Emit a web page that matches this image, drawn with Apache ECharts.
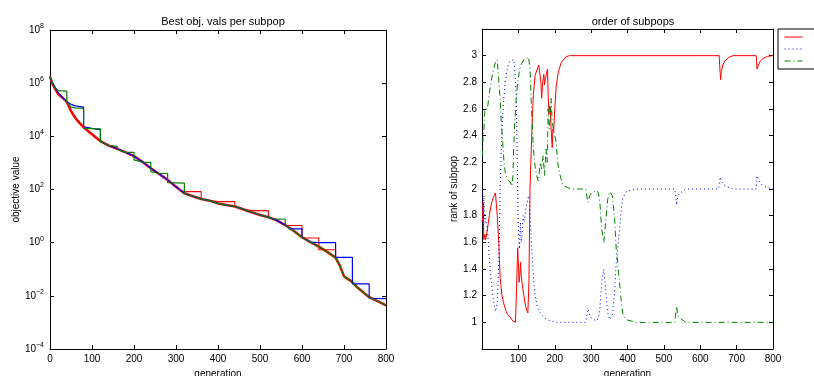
<!DOCTYPE html>
<html><head><meta charset="utf-8">
<script src="https://cdn.jsdelivr.net/npm/echarts@6/dist/echarts.min.js"></script>
<style>html,body{margin:0;padding:0;background:#fff}#c{width:814px;height:376px}</style>
</head><body><div id="c"></div>
<script>
// ---------- Left plot: best objective value (overall, thick) and per subpopulation ----------
const bestGen = [0,5,10,20,30,40,50,60,70,80,90,100,110,120,140,160,180,200,220,240,260,280,300,320,340,360,380,400,420,440,460,480,500,520,540,560,580,600,620,640,660,680,690,700,718,730,745,758,780,800];
const bestObj = [1.8e6,1.0e6,7.1e5,3.8e5,2.8e5,2.0e5,8.9e4,5.0e4,3.2e4,2.2e4,1.6e4,1.2e4,8.9e3,6.6e3,4.5e3,3.4e3,2.5e3,1.8e3,1.1e3,630,380,230,126,72,56,44,38,30,26,23,18,14,11,9.1,6.9,4.6,2.8,1.6,1.05,0.71,0.45,0.27,0.14,0.054,0.035,0.022,0.014,0.0093,0.0063,0.0044];

const redGen = [0,5,10,20,30,40,50,60,70,80,90,100,110,120,140,160,180,200,220,240,260,280,300,315,360,360,380,400,440,440,460,480,520,520,540,560,600,600,640,640,680,680,690,700,718,730,745,758,780,800];
const redObj = [1.8e6,1.0e6,7.1e5,3.8e5,2.8e5,2.0e5,8.9e4,5.0e4,3.2e4,2.2e4,1.6e4,1.2e4,8.9e3,6.6e3,4.5e3,3.4e3,2.5e3,1.8e3,1.1e3,630,380,230,126,83,83,44,38,35,35,24,18,16,16,9.1,6.9,4.4,4.4,1.5,1.5,0.54,0.54,0.27,0.14,0.054,0.035,0.022,0.014,0.0093,0.0063,0.0044];

const blueGen = [0,10,20,40,50,60,80,80,100,120,120,140,160,180,200,220,240,260,280,300,320,340,360,380,400,420,440,460,480,500,520,540,565,570,600,600,620,640,680,680,720,720,760,760,800];
const blueObj = [1.6e6,7.9e5,4.2e5,2.0e5,1.6e5,1.4e5,1.26e5,2.3e4,2.0e4,1.8e4,6.3e3,4.5e3,3.4e3,2.5e3,1.8e3,1.1e3,630,380,230,126,72,56,44,38,30,26,23,18,14,11,9.1,6.9,4.2,3.3,3.3,1.6,1.05,1.0,1.0,0.28,0.28,0.028,0.028,0.0081,0.0079];

const greenGen = [0,10,20,40,40,50,60,80,80,120,120,140,160,160,180,200,200,220,240,240,260,280,280,320,320,340,360,380,400,420,440,460,480,500,520,530,560,560,580,600,620,640,660,680,690,700,718,730,745,758,780,800];
const greenObj = [1.7e6,7.1e5,5.2e5,5.0e5,2.0e5,1.26e5,1.17e5,1.12e5,2.0e4,1.9e4,6.3e3,4.5e3,4.2e3,3.2e3,2.5e3,2.5e3,1.3e3,1.07e3,1.05e3,470,400,400,180,174,72,56,44,38,30,26,23,18,14,11,9.1,7.9,7.6,4.6,2.8,1.6,1.05,0.71,0.45,0.27,0.14,0.054,0.035,0.022,0.014,0.0093,0.0063,0.0044];

// ---------- Right plot: rank of each subpopulation ----------
const rankRedGen = [1,3,5,8,10,15,20,25,30,37,42,46,50,55,59,65,70,77,85,92,95,98,100,102,104,106,108,110,115,120,126,129,132,137,141,146,152,156,160,162,164,167,170,172,174,177,180,182,184,186,188,190,193,195,197,200,204,210,218,230,240,652,654,656,658,662,667,680,690,754,756,760,765,773,785,800];
const rankRed = [1.75,1.9,1.62,1.66,1.62,1.7,1.8,1.88,1.93,1.97,1.8,1.6,1.33,1.2,1.15,1.09,1.06,1.04,1.01,1.0,1.25,1.56,1.45,1.3,1.35,1.45,1.35,1.3,1.2,1.12,1.07,1.3,2.0,2.43,2.7,2.85,2.9,2.93,2.94,2.8,2.68,2.8,2.86,2.78,2.82,2.86,2.9,2.7,2.56,2.62,2.6,2.45,2.31,2.45,2.43,2.6,2.77,2.88,2.95,2.99,3.0,3.0,2.9,2.82,2.88,2.93,2.96,2.99,3.0,3.0,2.9,2.93,2.96,2.98,2.995,3.0];

const rankBlueGen = [1,3,5,8,10,15,20,25,30,37,42,46,50,53,56,60,63,68,74,80,87,90,94,96,98,100,103,106,108,110,113,116,119,124,128,131,134,137,141,146,152,160,170,178,190,205,285,290,292,296,301,315,320,324,329,335,338,340,343,346,351,358,364,369,373,378,383,387,396,410,423,530,533,535,538,545,560,650,653,655,658,665,680,690,754,756,760,770,785,800];
const rankBlue = [2.0,1.7,1.95,1.75,1.78,1.7,1.48,1.32,1.19,1.08,1.15,1.43,2.0,2.3,2.5,2.68,2.78,2.88,2.95,2.96,2.97,2.9,2.71,2.4,2.0,1.7,1.55,1.75,1.6,1.65,1.8,1.75,1.82,1.9,1.95,1.9,1.7,1.55,1.35,1.2,1.12,1.07,1.04,1.02,1.01,1.0,1.0,1.08,1.1,1.05,1.03,1.01,1.03,1.1,1.3,1.4,1.3,1.25,1.15,1.07,1.02,1.05,1.2,1.45,1.55,1.7,1.85,1.93,1.98,1.99,2.0,2.0,1.93,1.88,1.95,1.97,2.0,2.0,2.05,2.09,2.06,2.03,2.01,2.0,2.0,2.1,2.07,2.03,2.01,2.0];

const rankGreenGen = [1,3,5,8,10,15,20,25,30,37,42,46,50,53,57,60,64,70,78,82,85,87,90,94,98,105,115,128,132,135,138,140,143,146,150,155,160,164,168,172,176,179,182,185,188,190,193,197,200,204,208,213,222,235,250,285,290,292,296,301,315,320,324,329,335,338,340,343,346,351,358,364,369,373,378,383,387,396,410,423,530,533,535,538,545,560,800];
const rankGreen = [2.25,2.4,2.43,2.6,2.6,2.6,2.72,2.8,2.88,2.95,2.97,2.97,2.67,2.5,2.35,2.22,2.12,2.07,2.05,2.02,2.1,2.3,2.5,2.67,2.8,2.92,2.97,2.99,2.9,2.67,2.5,2.37,2.25,2.17,2.1,2.06,2.2,2.15,2.25,2.1,2.3,2.2,2.6,2.45,2.55,2.68,2.5,2.5,2.4,2.35,2.2,2.12,2.03,2.01,2.0,2.0,1.92,1.9,1.95,1.97,1.99,1.97,1.9,1.7,1.6,1.7,1.75,1.85,1.93,1.98,1.95,1.8,1.55,1.45,1.3,1.15,1.07,1.02,1.01,1.0,1.0,1.07,1.12,1.05,1.03,1.0,1.0];

const seriesNames = ['1', '2', '3'];

function pairs(g, v) { return g.map((x, i) => [x, v[i]]); }

const FONT = '"Liberation Sans", Arial, Helvetica, sans-serif';
const TXT = '#000';
const RED = '#ff0000', BLUE = '#0000ff', GREEN = '#008000';
const DOT = [1, 3], DASHDOT = [6, 3, 1, 3];

function boxAxisX(gridIndex, showMinLabel) {
  return [
    { type: 'value', gridIndex, min: 0, max: 800, interval: 100, position: 'bottom',
      axisLine: { show: true, onZero: false, lineStyle: { color: '#000', width: 1 } },
      axisTick: { show: true, inside: true, length: 4, lineStyle: { color: '#000' } },
      axisLabel: { show: true, fontSize: 10, fontFamily: FONT, color: TXT, margin: 5, showMinLabel },
      splitLine: { show: false },
      name: 'generation', nameLocation: 'middle', nameGap: 19,
      nameTextStyle: { fontSize: 10, fontFamily: FONT, color: TXT } },
    { type: 'value', gridIndex, min: 0, max: 800, interval: 100, position: 'top',
      axisLine: { show: true, onZero: false, lineStyle: { color: '#000', width: 1 } },
      axisTick: { show: true, inside: true, length: 4, lineStyle: { color: '#000' } },
      axisLabel: { show: false }, splitLine: { show: false } }
  ];
}

const option = {
  animation: false,
  backgroundColor: '#fff',
  title: [
    { text: 'Best obj. vals per subpop', left: 218, top: 11, textAlign: 'center',
      textStyle: { fontSize: 11, fontWeight: 'normal', fontFamily: FONT, color: TXT } },
    { text: 'order of subpops', left: 628, top: 11, textAlign: 'center',
      textStyle: { fontSize: 11, fontWeight: 'normal', fontFamily: FONT, color: TXT } }
  ],
  legend: {
    data: [
      { name: seriesNames[0], lineStyle: { color: RED, width: 1, type: 'solid' } },
      { name: seriesNames[1], lineStyle: { color: BLUE, width: 1, type: DOT } },
      { name: seriesNames[2], lineStyle: { color: GREEN, width: 1, type: DASHDOT } }
    ],
    orient: 'vertical', left: 778, top: 29,
    padding: [3, 4, 3, 6], itemGap: 2, itemWidth: 18, itemHeight: 10,
    borderColor: '#000', borderWidth: 1, backgroundColor: '#fff',
    itemStyle: { opacity: 0 },
    textStyle: { fontSize: 10, fontFamily: FONT, color: TXT, padding: [0, 0, 0, 14] },
    selectedMode: false
  },
  grid: [
    { left: 50, top: 30, width: 336, height: 319, containLabel: false, outerBoundsMode: 'none' },
    { left: 482, top: 29, width: 291, height: 320, containLabel: false, outerBoundsMode: 'none' }
  ],
  xAxis: [...boxAxisX(0, true), ...boxAxisX(1, false)],
  yAxis: [
    { type: 'log', gridIndex: 0, logBase: 10, min: 1e-4, max: 1e8, interval: 2, position: 'left',
      axisLine: { show: true, onZero: false, lineStyle: { color: '#000', width: 1 } },
      axisTick: { show: true, inside: true, length: 4, lineStyle: { color: '#000' } },
      minorTick: { show: false },
      axisLabel: { fontSize: 10, fontFamily: FONT, color: TXT, margin: 6,
        formatter: v => '10{sup|' + String(Math.round(Math.log10(v))).replace('-', '\u2212') + '}',
        rich: { sup: { fontSize: 7, fontFamily: FONT, color: TXT, padding: [0, 0, 8, 0] } } },
      splitLine: { show: false },
      name: 'objective value', nameLocation: 'middle', nameGap: 26,
      nameTextStyle: { fontSize: 10, fontFamily: FONT, color: TXT } },
    { type: 'log', gridIndex: 0, logBase: 10, min: 1e-4, max: 1e8, interval: 2, position: 'right',
      axisLine: { show: true, onZero: false, lineStyle: { color: '#000', width: 1 } },
      axisTick: { show: true, inside: true, length: 4, lineStyle: { color: '#000' } },
      axisLabel: { show: false }, splitLine: { show: false } },
    { type: 'value', gridIndex: 1, min: 0.8, max: 3.2, interval: 0.2, position: 'left',
      axisLine: { show: true, onZero: false, lineStyle: { color: '#000', width: 1 } },
      axisTick: { show: true, inside: true, length: 4, lineStyle: { color: '#000' } },
      axisLabel: { fontSize: 10, fontFamily: FONT, color: TXT, margin: 5, showMinLabel: false, showMaxLabel: false,
        formatter: v => String(Math.round(v * 10) / 10) },
      splitLine: { show: false },
      name: 'rank of subpop', nameLocation: 'middle', nameGap: 20,
      nameTextStyle: { fontSize: 10, fontFamily: FONT, color: TXT } },
    { type: 'value', gridIndex: 1, min: 0.8, max: 3.2, interval: 0.2, position: 'right',
      axisLine: { show: true, onZero: false, lineStyle: { color: '#000', width: 1 } },
      axisTick: { show: true, inside: true, length: 4, lineStyle: { color: '#000' } },
      axisLabel: { show: false }, splitLine: { show: false } }
  ],
  series: [
    { type: 'line', name: 'best overall', xAxisIndex: 0, yAxisIndex: 0, data: pairs(bestGen, bestObj),
      showSymbol: false, symbol: 'none', lineStyle: { color: RED, width: 2.5 }, itemStyle: { color: RED } },
    { type: 'line', name: 'subpop 1', xAxisIndex: 0, yAxisIndex: 0, data: pairs(redGen, redObj),
      showSymbol: false, symbol: 'none', lineStyle: { color: RED, width: 1.1 }, itemStyle: { color: RED } },
    { type: 'line', name: 'subpop 2', xAxisIndex: 0, yAxisIndex: 0, data: pairs(blueGen, blueObj),
      showSymbol: false, symbol: 'none', lineStyle: { color: BLUE, width: 1.2 }, itemStyle: { color: BLUE } },
    { type: 'line', name: 'subpop 3', xAxisIndex: 0, yAxisIndex: 0, data: pairs(greenGen, greenObj),
      showSymbol: false, symbol: 'none', lineStyle: { color: GREEN, width: 1.2 }, itemStyle: { color: GREEN } },
    { type: 'line', name: seriesNames[0], xAxisIndex: 2, yAxisIndex: 2, data: pairs(rankRedGen, rankRed),
      showSymbol: false, symbol: 'none', lineStyle: { color: RED, width: 1 }, itemStyle: { color: RED } },
    { type: 'line', name: seriesNames[1], xAxisIndex: 2, yAxisIndex: 2, data: pairs(rankBlueGen, rankBlue),
      showSymbol: false, symbol: 'none', lineStyle: { color: BLUE, width: 1, type: DOT }, itemStyle: { color: BLUE } },
    { type: 'line', name: seriesNames[2], xAxisIndex: 2, yAxisIndex: 2, data: pairs(rankGreenGen, rankGreen),
      showSymbol: false, symbol: 'none', lineStyle: { color: GREEN, width: 1, type: DASHDOT }, itemStyle: { color: GREEN } }
  ]
};

const chart = echarts.init(document.getElementById('c'), null, { renderer: 'canvas' });
chart.setOption(option);
</script>
</body></html>
